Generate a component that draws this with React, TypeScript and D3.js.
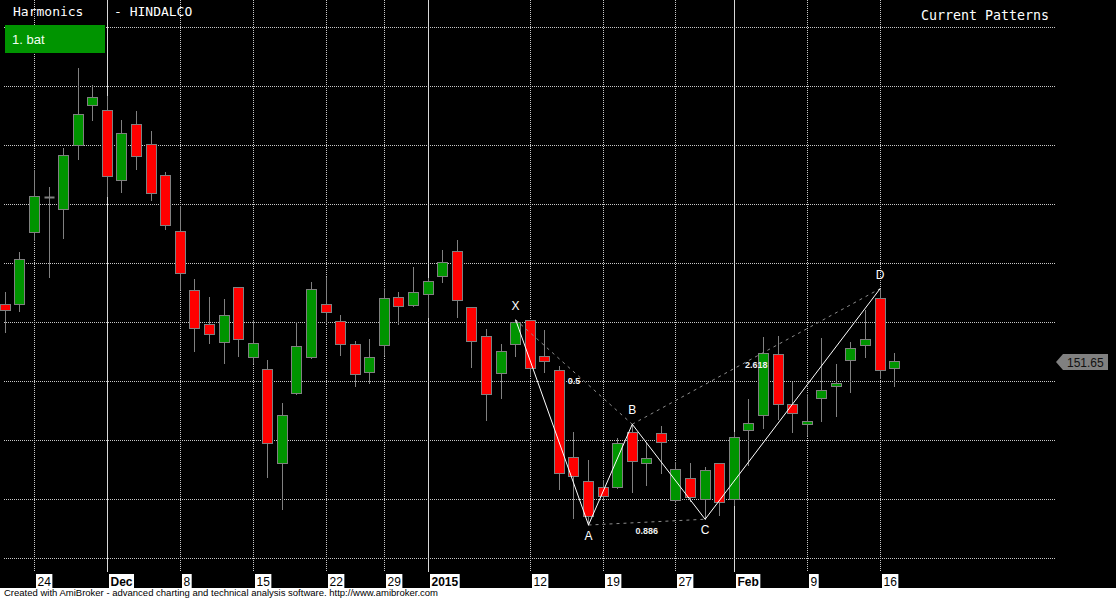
import React, { useRef, useEffect } from 'react';
import * as d3 from 'd3';

// trading days shown on the chart (NSE, HINDALCO)
const dates = [
  '2014-11-20', '2014-11-21', '2014-11-24', '2014-11-25', '2014-11-26', '2014-11-27', '2014-11-28',
  '2014-12-01', '2014-12-02', '2014-12-03', '2014-12-04', '2014-12-05',
  '2014-12-08', '2014-12-09', '2014-12-10', '2014-12-11', '2014-12-12',
  '2014-12-15', '2014-12-16', '2014-12-17', '2014-12-18', '2014-12-19',
  '2014-12-22', '2014-12-23', '2014-12-24', '2014-12-26',
  '2014-12-29', '2014-12-30', '2014-12-31', '2015-01-01', '2015-01-02',
  '2015-01-05', '2015-01-06', '2015-01-07', '2015-01-08', '2015-01-09',
  '2015-01-12', '2015-01-13', '2015-01-14', '2015-01-15', '2015-01-16',
  '2015-01-19', '2015-01-20', '2015-01-21', '2015-01-22', '2015-01-23',
  '2015-01-27', '2015-01-28', '2015-01-29', '2015-01-30',
  '2015-02-02', '2015-02-03', '2015-02-04', '2015-02-05', '2015-02-06',
  '2015-02-09', '2015-02-10', '2015-02-11', '2015-02-12', '2015-02-13',
  '2015-02-16', '2015-02-18'
];

const opens = [
  156.53, 156.53, 162.63, 165.56, 164.54, 169.97, 173.39, 172.97, 167.03, 171.78,
  170.08, 167.46, 162.71, 157.71, 154.83, 153.33, 157.97, 152.03, 151.02, 143.05,
  148.98, 152.03, 156.53, 155.08, 153.14, 150.76, 153.05, 157.12, 156.44, 157.37,
  158.90, 161.02, 156.27, 153.81, 150.64, 153.14, 155.14, 152.12, 150.93, 143.56,
  141.53, 141.02, 141.02, 145.62, 143.05, 145.59, 139.94, 141.75, 139.94, 143.05,
  140.00, 145.85, 147.06, 152.25, 148.05, 146.36, 148.56, 149.58, 151.78, 153.05,
  157.00, 151.02
];
const highs = [
  157.54, 160.93, 167.91, 166.47, 169.77, 176.55, 175.11, 174.20, 172.14, 172.91,
  171.21, 167.71, 164.86, 158.67, 157.14, 156.95, 157.97, 155.19, 151.81, 148.16,
  155.00, 158.42, 158.86, 155.62, 153.42, 153.58, 157.88, 157.57, 159.69, 158.75,
  161.13, 161.97, 156.30, 154.43, 153.19, 155.22, 155.20, 154.35, 151.30, 145.70,
  143.33, 141.64, 145.20, 146.36, 144.80, 146.21, 143.16, 143.08, 142.76, 143.10,
  145.73, 148.50, 153.73, 153.81, 149.97, 148.92, 153.64, 151.47, 153.31, 156.02,
  157.85, 152.37
];
const lows = [
  154.20, 155.98, 161.95, 158.86, 162.17, 168.86, 172.17, 165.70, 166.04, 168.02,
  165.39, 162.93, 157.85, 152.59, 153.27, 151.58, 152.17, 151.58, 141.92, 139.15,
  148.90, 151.95, 154.92, 152.23, 149.63, 149.83, 152.25, 154.83, 156.40, 155.47,
  158.42, 155.47, 151.24, 146.75, 148.61, 152.17, 150.53, 150.81, 140.90, 138.42,
  137.82, 139.90, 140.95, 140.59, 141.21, 142.20, 139.80, 139.85, 138.31, 138.67,
  139.52, 142.91, 146.07, 146.83, 145.73, 145.45, 146.66, 147.08, 149.12, 152.08,
  150.25, 149.63
];
const closes = [
  156.02, 160.34, 165.68, 165.56, 169.15, 172.63, 174.07, 167.37, 171.02, 169.07,
  165.93, 163.22, 159.15, 154.52, 153.98, 155.59, 153.56, 153.22, 144.75, 147.12,
  152.97, 157.80, 155.85, 153.14, 150.59, 152.03, 157.03, 156.36, 157.54, 158.47,
  160.08, 156.86, 153.39, 148.90, 152.54, 155.00, 151.10, 151.69, 142.20, 141.95,
  138.58, 140.28, 144.75, 143.19, 143.47, 144.83, 142.54, 140.17, 142.42, 139.77,
  145.25, 146.44, 152.34, 148.05, 147.29, 146.61, 149.24, 149.83, 152.80, 153.56,
  150.93, 151.65
];

// x-axis ticks
const tickDates = [
  '2014-11-24', '2014-12-01', '2014-12-08', '2014-12-15', '2014-12-22', '2014-12-29',
  '2015-01-01', '2015-01-12', '2015-01-19', '2015-01-27', '2015-02-02', '2015-02-09', '2015-02-16'
];
const tickLabels = ['24', 'Dec', '8', '15', '22', '29', '2015', '12', '19', '27', 'Feb', '9', '16'];
const monthLabels = ['Dec', '2015', 'Feb'];

// bat pattern
const patternLabels = ['X', 'A', 'B', 'C', 'D'];
const patternDates = ['2015-01-09', '2015-01-16', '2015-01-21', '2015-01-29', '2015-02-16'];
const patternPrices = [155.22, 137.82, 146.36, 138.31, 157.85];
const ratioLabels = ['0.5', '0.886', '2.618'];

const W = 1116;
const H = 599;

const App: React.FC = () => {
  const svgRef = useRef<SVGSVGElement>(null);

  useEffect(() => {
    if (!svgRef.current) return;
    const svg = d3.select(svgRef.current);
    svg.selectAll('*').remove();

    const x = d3.scalePoint<string>().domain(dates).range([5.3, 894.7]);
    const y = d3.scaleLinear().domain([135, 180]).range([558.3, 27.3]);
    const px = (d: string) => Math.floor(x(d)!) + 0.5;
    const py = (v: number) => Math.floor(y(v)) + 0.5;

    svg.append('rect').attr('width', W).attr('height', 588).attr('fill', '#000');

    // horizontal grid
    svg.append('g')
      .selectAll('line')
      .data(y.ticks(10))
      .enter()
      .append('line')
      .attr('x1', 4).attr('x2', 1056)
      .attr('y1', d => py(d)).attr('y2', d => py(d))
      .attr('stroke', '#c8c8c8')
      .attr('stroke-dasharray', '1,1');

    // vertical date lines
    svg.append('g')
      .selectAll('line')
      .data(tickDates)
      .enter()
      .append('line')
      .attr('x1', d => px(d)).attr('x2', d => px(d))
      .attr('y1', 0).attr('y2', 572)
      .attr('stroke', (d, i) => monthLabels.includes(tickLabels[i]) ? '#d8d8d8' : '#c8c8c8')
      .attr('stroke-dasharray', (d, i) => monthLabels.includes(tickLabels[i]) ? null : '1,1');

    // candles
    const candles = svg.append('g')
      .selectAll('g')
      .data(dates)
      .enter()
      .append('g');

    candles.append('line')
      .attr('x1', d => px(d)).attr('x2', d => px(d))
      .attr('y1', (d, i) => Math.round(y(highs[i])))
      .attr('y2', (d, i) => Math.round(y(lows[i])) + 1)
      .attr('stroke', '#808080');

    candles.filter((d, i) => opens[i] !== closes[i])
      .append('rect')
      .attr('x', d => px(d) - 5)
      .attr('width', 10)
      .attr('y', d => py(Math.max(opens[dates.indexOf(d)], closes[dates.indexOf(d)])))
      .attr('height', d => {
        const i = dates.indexOf(d);
        return Math.max(1, Math.round(y(Math.min(opens[i], closes[i])) - y(Math.max(opens[i], closes[i]))));
      })
      .attr('fill', d => {
        const i = dates.indexOf(d);
        return closes[i] > opens[i] ? '#009400' : '#ff0000';
      })
      .attr('stroke', '#808080');

    candles.filter((d, i) => opens[i] === closes[i])
      .append('line')
      .attr('x1', d => px(d) - 5).attr('x2', d => px(d) + 5)
      .attr('y1', d => py(closes[dates.indexOf(d)]))
      .attr('y2', d => py(closes[dates.indexOf(d)]))
      .attr('stroke', '#808080')
      .attr('stroke-width', 2);

    // harmonic pattern
    const pts = patternDates.map((d, i) => [x(d)!, y(patternPrices[i])] as [number, number]);
    const dashed = [[0, 2], [1, 3], [2, 4]];

    svg.append('g')
      .selectAll('line')
      .data(dashed)
      .enter()
      .append('line')
      .attr('x1', d => pts[d[0]][0]).attr('y1', d => pts[d[0]][1])
      .attr('x2', d => pts[d[1]][0]).attr('y2', d => pts[d[1]][1])
      .attr('stroke', '#8c8c8c')
      .attr('stroke-dasharray', '3,4');

    svg.append('path')
      .attr('d', d3.line()(pts))
      .attr('fill', 'none')
      .attr('stroke', '#ffffff');

    svg.append('g')
      .selectAll('text')
      .data(dashed)
      .enter()
      .append('text')
      .attr('x', d => (pts[d[0]][0] + pts[d[1]][0]) / 2)
      .attr('y', d => (pts[d[0]][1] + pts[d[1]][1]) / 2 + 12)
      .attr('text-anchor', 'middle')
      .attr('font-family', 'Liberation Sans, Arial, sans-serif')
      .attr('font-size', 9)
      .attr('font-weight', 'bold')
      .attr('fill', '#f0f0f0')
      .text((d, i) => ratioLabels[i]);

    svg.append('g')
      .selectAll('text')
      .data(patternLabels)
      .enter()
      .append('text')
      .attr('x', (d, i) => pts[i][0])
      .attr('y', (d, i) => (i % 2 === 0 ? pts[i][1] - 10 : pts[i][1] + 15))
      .attr('text-anchor', 'middle')
      .attr('font-family', 'Liberation Sans, Arial, sans-serif')
      .attr('font-size', 12)
      .attr('fill', '#ffffff')
      .text(d => d);

    // x-axis labels with white boxes
    const lab = svg.append('g')
      .selectAll('g')
      .data(tickDates)
      .enter()
      .append('g');
    lab.append('rect');
    lab.append('text')
      .attr('x', d => px(d) + 3)
      .attr('y', 585.5)
      .attr('font-family', 'Liberation Sans, Arial, sans-serif')
      .attr('font-size', 12)
      .attr('font-weight', (d, i) => monthLabels.includes(tickLabels[i]) ? 'bold' : 'normal')
      .attr('fill', '#000')
      .text((d, i) => tickLabels[i]);
    lab.each(function () {
      const g = d3.select(this);
      const t = g.select<SVGTextElement>('text').node()!;
      const w = t.getComputedTextLength();
      const x0 = parseFloat(t.getAttribute('x')!) - 1.5;
      g.select('rect')
        .attr('x', x0).attr('y', 574)
        .attr('width', w + 3).attr('height', 14)
        .attr('fill', '#fff');
    });

    // last price marker
    const last = closes[closes.length - 1];
    const ly = Math.round(y(last));
    svg.append('path')
      .attr('d', `M1056,${ly} L1063,${ly - 8} L1108,${ly - 8} L1108,${ly + 8} L1063,${ly + 8} Z`)
      .attr('fill', '#808080');
    svg.append('text')
      .attr('x', 1067)
      .attr('y', ly + 5)
      .attr('font-family', 'Liberation Sans, Arial, sans-serif')
      .attr('font-size', 12)
      .attr('fill', '#111')
      .text(d3.format('.2f')(last));

    // titles
    const mono = 'DejaVu Sans Mono, monospace';
    svg.append('text').attr('x', 13).attr('y', 15.5)
      .attr('font-family', mono).attr('font-size', 13).attr('fill', '#fff')
      .text('Harmonics');
    svg.append('text').attr('x', 114).attr('y', 15.5)
      .attr('font-family', mono).attr('font-size', 13).attr('fill', '#fff')
      .text('- HINDALCO');
    svg.append('text').attr('x', 921).attr('y', 20)
      .attr('font-family', mono).attr('font-size', 13.3).attr('fill', '#fff')
      .text('Current Patterns');

    svg.append('rect').attr('x', 5).attr('y', 25).attr('width', 100).attr('height', 28)
      .attr('fill', '#009400');
    svg.append('text').attr('x', 12).attr('y', 44)
      .attr('font-family', 'Liberation Sans, Arial, sans-serif').attr('font-size', 13)
      .attr('fill', '#f0fff0')
      .text('1. bat');

    svg.append('text').attr('x', 4).attr('y', 596)
      .attr('font-family', 'Liberation Sans, Arial, sans-serif').attr('font-size', 9.5)
      .attr('fill', '#000')
      .text('Created with AmiBroker - advanced charting and technical analysis software. http://www.amibroker.com');
  }, []);

  return (
    <svg
      ref={svgRef}
      width={W}
      height={H}
      style={{ position: 'absolute', left: 0, top: 0, background: '#fff' }}
    />
  );
};

export default App;
